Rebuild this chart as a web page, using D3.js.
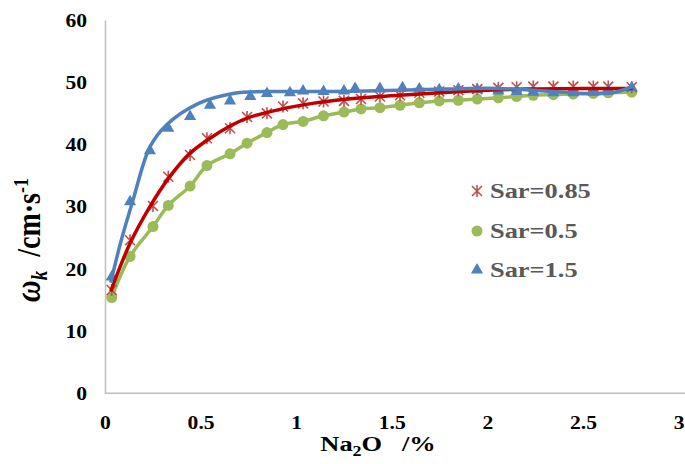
<!DOCTYPE html>
<html>
<head>
<meta charset="utf-8">
<script src="https://cdn.jsdelivr.net/npm/d3@7"></script>
<style>
  body { margin: 0; background: #fff; }
  svg { display: block; }
</style>
</head>
<body>
<div id="chart"></div>
<script>
// measured Na2O content (%) for Sar=0.85 and Sar=0.5
const xVals = [0.035, 0.131, 0.251, 0.331, 0.445, 0.533, 0.654, 0.743, 0.847, 0.931,
               1.036, 1.143, 1.25, 1.339, 1.438, 1.543, 1.644, 1.748, 1.848, 1.947,
               2.057, 2.153, 2.24, 2.345, 2.449, 2.554, 2.632, 2.755];
const sar085 = [16.6, 24.6, 30.1, 34.8, 38.3, 41.0, 42.6, 44.4, 45.0, 46.1,
                46.6, 46.9, 47.0, 47.3, 47.7, 47.9, 48.3, 48.5, 48.7, 48.9,
                49.1, 49.2, 49.3, 49.3, 49.3, 49.3, 49.3, 49.2];
const sar05 = [15.4, 22.0, 26.8, 30.2, 33.3, 36.6, 38.5, 40.2, 41.9, 43.2,
               43.7, 44.6, 45.2, 45.7, 45.9, 46.3, 46.7, 47.0, 47.1, 47.3,
               47.5, 47.7, 47.9, 48.0, 48.1, 48.2, 48.3, 48.4];
// Sar=1.5 was sampled at slightly different points
const xBlue = [0.035, 0.131, 0.235, 0.331, 0.445, 0.549, 0.654, 0.76, 0.847, 0.967,
               1.036, 1.143, 1.25, 1.308, 1.438, 1.556, 1.644, 1.748, 1.848, 1.947,
               2.057, 2.153, 2.24, 2.345, 2.449, 2.554, 2.632, 2.755];
const sar15 = [18.7, 30.8, 39.0, 42.6, 44.5, 46.3, 47.0, 47.7, 48.2, 48.3,
               48.6, 48.5, 48.6, 49.0, 49.0, 49.1, 48.9, 48.8, 48.9, 48.8,
               48.6, 48.5, 48.4, 48.3, 48.3, 48.4, 48.6, 49.1];

// trend lines
const fit085X = [0.03, 0.131, 0.235, 0.331, 0.445, 0.55, 0.645, 0.74, 0.91, 1.085, 1.3, 1.54, 1.8, 2.0, 2.2, 2.5, 2.76];
const fit085Y = [16.4, 24.1, 30.0, 34.5, 38.6, 41.0, 42.8, 44.2, 45.6, 46.6, 47.4, 47.9, 48.4, 48.7, 48.9, 49.0, 49.0];
const fit15X = [0.03, 0.085, 0.146, 0.235, 0.32, 0.49, 0.67, 0.84, 1.19, 1.54, 1.8, 2.05, 2.3, 2.5, 2.65, 2.76];
const fit15Y = [17.8, 24.6, 31.0, 39.6, 43.1, 46.6, 48.2, 48.5, 48.5, 48.7, 48.9, 49.0, 48.6, 48.2, 48.3, 49.3];

const xTicks = [0, 0.5, 1, 1.5, 2, 2.5, 3];
const yTicks = [0, 10, 20, 30, 40, 50, 60];
const legendLabels = ["Sar=0.85", "Sar=0.5", "Sar=1.5"];

const width = 685, height = 464;
const stretch = 1.2;   // the original picture is a bit wider than tall
const font = "'Liberation Serif', 'Times New Roman', serif";

const svg = d3.select("#chart").append("svg")
    .attr("width", width)
    .attr("height", height)
    .attr("viewBox", `0 0 ${width} ${height}`);

const x = d3.scaleLinear().domain([0, 3]).range([105, 678.6]);
const y = d3.scaleLinear().domain([0, 60]).range([393.3, 20]);

// axes
const yAxis = svg.append("g")
    .attr("transform", `translate(${x(0)},0)`)
    .call(d3.axisLeft(y).tickValues(yTicks).tickSize(0).tickSizeOuter(0));
yAxis.select(".domain").attr("stroke", "#bfbfbf").attr("stroke-width", 1.5);
yAxis.selectAll(".tick text")
    .attr("x", 0).attr("dy", "0.35em")
    .attr("transform", `translate(-18,0) scale(${stretch},1)`)
    .style("font-family", font).style("font-size", "18px").style("font-weight", "bold")
    .attr("fill", "#000");

const xAxis = svg.append("g")
    .attr("transform", `translate(0,${y(0)})`)
    .call(d3.axisBottom(x).tickValues(xTicks).tickFormat(d3.format("")).tickSize(0).tickSizeOuter(0));
xAxis.select(".domain").attr("stroke", "#bfbfbf").attr("stroke-width", 1.5)
    .attr("d", `M${x(0)},0H${width}`);
xAxis.selectAll(".tick text")
    .attr("y", 0).attr("dy", 0)
    .attr("transform", `translate(0,36) scale(${stretch},1)`)
    .style("font-family", font).style("font-size", "18px").style("font-weight", "bold")
    .attr("fill", "#000");

// axis titles
const xTitle = svg.append("text")
    .attr("transform", `translate(378,451) scale(${stretch},1)`)
    .attr("text-anchor", "middle")
    .style("font-family", font).style("font-size", "22px").style("font-weight", "bold");
xTitle.append("tspan").text("Na");
xTitle.append("tspan").text("2").attr("dy", 5).style("font-size", "15px");
xTitle.append("tspan").text("O\u00a0\u00a0\u00a0/%").attr("dy", -5);

const yTitle = svg.append("text")
    .attr("transform", `translate(40,240) scale(${stretch},1) rotate(-90)`)
    .attr("text-anchor", "middle")
    .style("font-family", font).style("font-size", "28px").style("font-weight", "bold");
yTitle.append("tspan").text("ω").style("font-style", "italic").style("font-size", "30px");
yTitle.append("tspan").text("k").style("font-style", "italic").style("font-size", "19px").attr("dy", 6);
yTitle.append("tspan").text("\u00a0\u00a0/cm·s").attr("dy", -6);
yTitle.append("tspan").text("-1").style("font-size", "18px").attr("dy", -10);

// series
const plot = svg.append("g");

const greenPts = xVals.map((d, i) => [d, sar05[i]]);
plot.append("path")
    .attr("d", d3.line().x(d => x(d[0])).y(d => y(d[1])).curve(d3.curveCatmullRom)(greenPts))
    .attr("fill", "none").attr("stroke", "#9bbb59").attr("stroke-width", 3.5);
plot.selectAll("circle.green")
    .data(greenPts)
    .enter().append("circle")
    .attr("class", "green")
    .attr("cx", d => x(d[0])).attr("cy", d => y(d[1]))
    .attr("r", 5.5).attr("fill", "#9bbb59");

const starPath = "M-5,-5L5,5M-5,5L5,-5M0,-6L0,6";
plot.selectAll("path.red")
    .data(xVals.map((d, i) => [d, sar085[i]]))
    .enter().append("path")
    .attr("class", "red")
    .attr("d", starPath)
    .attr("transform", d => `translate(${x(d[0])},${y(d[1])})`)
    .attr("fill", "none").attr("stroke", "#c0504d").attr("stroke-width", 1.6);

const tri = d3.symbol().type(d3.symbolTriangle).size(64);
plot.selectAll("path.blue")
    .data(xBlue.map((d, i) => [d, sar15[i]]))
    .enter().append("path")
    .attr("class", "blue")
    .attr("d", tri)
    .attr("transform", d => `translate(${x(d[0])},${y(d[1])})`)
    .attr("fill", "#4f81bd");

plot.append("path")
    .attr("d", d3.line().x(d => x(d[0])).y(d => y(d[1])).curve(d3.curveCatmullRom)(fit085X.map((d, i) => [d, fit085Y[i]])))
    .attr("fill", "none").attr("stroke", "#c00000").attr("stroke-width", 3.5);

plot.append("path")
    .attr("d", d3.line().x(d => x(d[0])).y(d => y(d[1])).curve(d3.curveCatmullRom)(fit15X.map((d, i) => [d, fit15Y[i]])))
    .attr("fill", "none").attr("stroke", "#4f81bd").attr("stroke-width", 3.5);

// legend
const legend = svg.append("g");
const legendY = [198, 238, 277];
legendLabels.forEach((label, i) => {
    const g = legend.append("g").attr("transform", `translate(477,${legendY[i] - 7})`);
    if (i === 0) {
        g.append("path").attr("d", starPath).attr("fill", "none")
            .attr("stroke", "#c0504d").attr("stroke-width", 1.6);
    } else if (i === 1) {
        g.append("circle").attr("r", 5.5).attr("fill", "#9bbb59");
    } else {
        g.append("path").attr("d", tri).attr("fill", "#4f81bd");
    }
    legend.append("text")
        .attr("transform", `translate(490,${legendY[i]}) scale(${stretch},1)`)
        .text(label)
        .style("font-family", font).style("font-size", "22px").style("font-weight", "bold")
        .attr("fill", "#595959");
});
</script>
</body>
</html>
